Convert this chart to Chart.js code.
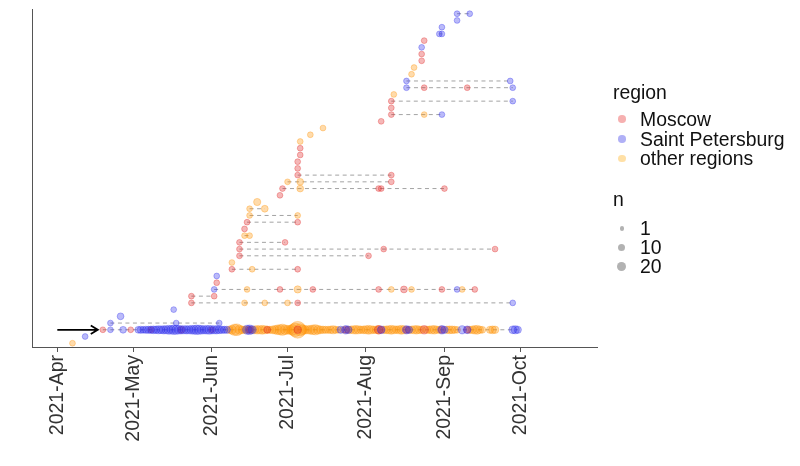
<!DOCTYPE html>
<html>
<head>
<meta charset="utf-8">
<script src="https://cdn.jsdelivr.net/npm/chart.js@4.4.1/dist/chart.umd.min.js"></script>
<style>
  body { margin: 0; background: #fff; }
  #wrap { position: relative; width: 800px; height: 466px; }
  .lg { position: absolute; font-family: "Liberation Sans", Arial, sans-serif; font-size: 19.4px; line-height: 19.4px; color: #111; white-space: nowrap; }
  .key { position: absolute; border-radius: 50%; }
</style>
</head>
<body>
<div id="wrap">
  <canvas id="lineageChart"></canvas>
  <div class="lg" style="left:613px; top:83px;">region</div>
  <div class="key" style="left:618px; top:115px; width:7.5px; height:7.5px; background:rgba(230,30,30,0.35);"></div>
  <div class="lg" style="left:640px; top:110px;">Moscow</div>
  <div class="key" style="left:618px; top:135px; width:7.5px; height:7.5px; background:rgba(30,30,230,0.35);"></div>
  <div class="lg" style="left:640px; top:130px;">Saint Petersburg</div>
  <div class="key" style="left:618px; top:154.5px; width:7.5px; height:7.5px; background:rgba(255,165,0,0.35);"></div>
  <div class="lg" style="left:640px; top:149px;">other regions</div>
  <div class="lg" style="left:613px; top:190px;">n</div>
  <div class="key" style="left:619.5px; top:226px; width:4.5px; height:4.5px; background:rgba(0,0,0,0.3);"></div>
  <div class="lg" style="left:640px; top:218.5px;">1</div>
  <div class="key" style="left:618px; top:244px; width:7px; height:7px; background:rgba(0,0,0,0.3);"></div>
  <div class="lg" style="left:640px; top:238px;">10</div>
  <div class="key" style="left:617.3px; top:262px; width:8.8px; height:8.8px; background:rgba(0,0,0,0.3);"></div>
  <div class="lg" style="left:640px; top:256.5px;">20</div>
</div>
<script>
// [row, date, n]
var moscow = [
  [2,'2021-04-19',1],[2,'2021-04-30',1],[2,'2021-05-08',1],[2,'2021-05-20',2],[2,'2021-06-01',1],
  [2,'2021-06-16',2],[2,'2021-06-23',2],[2,'2021-07-05',4],[2,'2021-07-24',2],[2,'2021-08-06',8],
  [2,'2021-08-07',2],[2,'2021-08-17',2],[2,'2021-08-24',8],[2,'2021-08-31',3],[2,'2021-09-10',2],
  [6,'2021-05-24',1],[6,'2021-07-05',1],
  [7,'2021-05-24',1],[7,'2021-06-02',1],
  [8,'2021-06-28',1],[8,'2021-07-11',1],[8,'2021-08-06',1],[8,'2021-08-16',2],[8,'2021-08-31',1],[8,'2021-09-13',1],
  [9,'2021-06-03',1],
  [11,'2021-06-09',1],[11,'2021-07-05',1],
  [13,'2021-06-12',1],[13,'2021-08-02',1],
  [14,'2021-06-12',1],[14,'2021-08-08',1],[14,'2021-09-21',1],
  [15,'2021-06-12',1],[15,'2021-06-30',1],
  [17,'2021-06-14',1],
  [18,'2021-06-15',1],[18,'2021-07-05',1],
  [22,'2021-06-28',1],
  [23,'2021-06-29',1],[23,'2021-08-06',1],[23,'2021-08-07',1],[23,'2021-09-01',1],
  [24,'2021-08-11',1],
  [25,'2021-07-05',1],[25,'2021-08-11',1],
  [26,'2021-07-05',1],[27,'2021-07-05',1],[28,'2021-07-06',1],[29,'2021-07-06',1],
  [33,'2021-08-07',1],
  [34,'2021-08-11',1],[35,'2021-08-11',1],[36,'2021-08-11',1],
  [38,'2021-08-24',1],[38,'2021-09-10',1],
  [42,'2021-08-23',1],[43,'2021-08-23',1],[45,'2021-08-24',1]
];

var spb = [
  [1,'2021-04-12',1],
  [2,'2021-04-22',1],[2,'2021-04-27',2],
  [2,'2021-05-03',2],[2,'2021-05-04',3],[2,'2021-05-05',2],[2,'2021-05-06',3],[2,'2021-05-07',3],
  [2,'2021-05-08',4],[2,'2021-05-09',5],[2,'2021-05-10',4],[2,'2021-05-11',6],[2,'2021-05-12',5],
  [2,'2021-05-13',7],[2,'2021-05-14',6],[2,'2021-05-15',10],[2,'2021-05-16',9],[2,'2021-05-17',14],
  [2,'2021-05-18',12],[2,'2021-05-19',9],[2,'2021-05-20',7],[2,'2021-05-21',6],[2,'2021-05-22',7],
  [2,'2021-05-23',6],[2,'2021-05-24',9],[2,'2021-05-25',10],[2,'2021-05-26',14],[2,'2021-05-27',12],
  [2,'2021-05-28',9],[2,'2021-05-29',7],[2,'2021-05-30',8],[2,'2021-05-31',10],[2,'2021-06-01',7],
  [2,'2021-06-02',6],[2,'2021-06-03',7],[2,'2021-06-04',5],[2,'2021-06-05',4],[2,'2021-06-06',3],
  [2,'2021-06-07',3],[2,'2021-06-15',12],[2,'2021-06-16',15],[2,'2021-06-17',6],
  [2,'2021-07-22',3],[2,'2021-07-24',8],[2,'2021-07-25',4],[2,'2021-08-07',5],[2,'2021-08-17',7],
  [2,'2021-08-18',3],[2,'2021-08-31',8],[2,'2021-09-01',3],[2,'2021-09-08',7],[2,'2021-09-10',5],
  [2,'2021-09-28',5],[2,'2021-09-29',6],[2,'2021-09-30',3],
  [3,'2021-04-22',1],[3,'2021-05-18',1],[3,'2021-06-04',1],
  [4,'2021-04-26',2],
  [5,'2021-05-17',1],
  [6,'2021-09-28',1],
  [8,'2021-06-02',1],[8,'2021-09-06',1],
  [10,'2021-06-03',1],
  [34,'2021-08-31',1],
  [36,'2021-09-28',1],
  [38,'2021-08-17',1],[38,'2021-09-28',1],
  [39,'2021-08-17',1],[39,'2021-09-27',1],
  [44,'2021-08-23',1],
  [46,'2021-08-30',1],[46,'2021-08-31',1],
  [47,'2021-08-31',1],
  [48,'2021-09-06',1],
  [49,'2021-09-06',1],[49,'2021-09-11',1]
];

var other = [
  [0,'2021-04-07',1],
  [2,'2021-06-08',4],[2,'2021-06-09',10],[2,'2021-06-10',30],[2,'2021-06-11',35],[2,'2021-06-12',12],
  [2,'2021-06-13',5],[2,'2021-06-14',4],[2,'2021-06-15',3],[2,'2021-06-16',2],[2,'2021-06-17',3],
  [2,'2021-06-18',5],[2,'2021-06-19',8],[2,'2021-06-20',6],[2,'2021-06-21',10],[2,'2021-06-22',6],
  [2,'2021-06-23',4],[2,'2021-06-24',3],[2,'2021-06-25',5],[2,'2021-06-26',8],[2,'2021-06-27',15],
  [2,'2021-06-28',20],[2,'2021-06-29',30],[2,'2021-06-30',15],[2,'2021-07-01',10],[2,'2021-07-02',12],
  [2,'2021-07-03',25],[2,'2021-07-04',60],[2,'2021-07-05',120],[2,'2021-07-06',40],[2,'2021-07-07',15],
  [2,'2021-07-08',8],[2,'2021-07-09',6],[2,'2021-07-10',10],[2,'2021-07-11',15],[2,'2021-07-12',20],
  [2,'2021-07-13',10],[2,'2021-07-14',5],[2,'2021-07-15',4],[2,'2021-07-16',3],[2,'2021-07-17',3],
  [2,'2021-07-18',4],[2,'2021-07-19',6],[2,'2021-07-20',3],[2,'2021-07-21',2],[2,'2021-07-23',2],
  [2,'2021-07-25',3],[2,'2021-07-26',4],[2,'2021-07-27',6],[2,'2021-07-28',8],[2,'2021-07-29',6],
  [2,'2021-07-30',4],[2,'2021-07-31',5],[2,'2021-08-01',6],[2,'2021-08-02',10],[2,'2021-08-03',6],
  [2,'2021-08-04',4],[2,'2021-08-05',5],[2,'2021-08-06',8],[2,'2021-08-08',4],[2,'2021-08-09',5],
  [2,'2021-08-10',6],[2,'2021-08-11',10],[2,'2021-08-12',6],[2,'2021-08-13',4],[2,'2021-08-14',6],
  [2,'2021-08-15',10],[2,'2021-08-16',6],[2,'2021-08-18',3],[2,'2021-08-19',4],[2,'2021-08-20',6],
  [2,'2021-08-21',8],[2,'2021-08-22',5],[2,'2021-08-23',4],[2,'2021-08-25',4],[2,'2021-08-26',4],
  [2,'2021-08-27',6],[2,'2021-08-28',8],[2,'2021-08-29',4],[2,'2021-08-30',3],[2,'2021-09-02',4],
  [2,'2021-09-03',5],[2,'2021-09-04',5],[2,'2021-09-05',3],[2,'2021-09-06',2],[2,'2021-09-11',3],
  [2,'2021-09-12',5],[2,'2021-09-13',8],[2,'2021-09-14',10],[2,'2021-09-15',4],[2,'2021-09-16',2],
  [2,'2021-09-19',3],[2,'2021-09-20',5],[2,'2021-09-21',4],
  [6,'2021-06-14',1],[6,'2021-06-22',1],[6,'2021-07-01',1],
  [8,'2021-06-15',1],[8,'2021-07-05',3],[8,'2021-08-11',1],[8,'2021-08-19',1],[8,'2021-09-08',1],
  [11,'2021-06-17',1],
  [12,'2021-06-09',1],
  [16,'2021-06-14',1],[16,'2021-06-16',1],
  [19,'2021-06-16',1],[19,'2021-07-05',1],
  [20,'2021-06-16',1],[20,'2021-06-22',2],
  [21,'2021-06-19',3],
  [23,'2021-07-06',2],
  [24,'2021-07-01',1],[24,'2021-07-06',2],
  [30,'2021-07-06',1],[31,'2021-07-10',1],[32,'2021-07-15',1],
  [34,'2021-08-24',1],
  [37,'2021-08-12',1],
  [40,'2021-08-19',1],[41,'2021-08-20',1]
];

var tickDates = ['2021-04-01','2021-05-01','2021-06-01','2021-07-01','2021-08-01','2021-09-01','2021-10-01'];
var tickLabels = ['2021-Apr','2021-May','2021-Jun','2021-Jul','2021-Aug','2021-Sep','2021-Oct'];
var arrowFrom = ['2021-04-01', 2];
var arrowTo = ['2021-04-17', 2];

var base = Date.UTC(2021, 3, 1);
function dayNum(s) { return (Date.parse(s + 'T00:00:00Z') - base) / 864e5; }
function sizeOf(n) { return 2.9 + 0.5 * Math.sqrt(n - 1); }
function toPoints(list) { return list.map(function(p) { return { x: dayNum(p[1]), y: p[0], n: p[2] }; }); }

// dashed segment from first to last sample in each row
var spans = {};
[moscow, spb, other].forEach(function(list) {
  list.forEach(function(p) {
    var d = dayNum(p[1]);
    if (!spans[p[0]]) spans[p[0]] = [d, d];
    spans[p[0]][0] = Math.min(spans[p[0]][0], d);
    spans[p[0]][1] = Math.max(spans[p[0]][1], d);
  });
});
var lineSets = [];
Object.keys(spans).forEach(function(row) {
  var s = spans[row];
  if (s[1] > s[0]) {
    lineSets.push({
      type: 'line',
      data: [{ x: s[0], y: +row }, { x: s[1], y: +row }],
      borderColor: '#a3a3a3',
      borderWidth: 1,
      borderDash: [4, 3.5],
      pointRadius: 0,
      order: 10
    });
  }
});

function pointSet(list, rgb, alpha, order) {
  return {
    type: 'scatter',
    data: toPoints(list),
    backgroundColor: 'rgba(' + rgb + ',' + alpha + ')',
    borderColor: 'rgba(' + rgb + ',' + alpha + ')',
    borderWidth: 1,
    pointRadius: function(ctx) { return ctx.raw ? sizeOf(ctx.raw.n) : 3; },
    order: order
  };
}

var arrowPlugin = {
  id: 'arrow',
  afterDatasetsDraw: function(chart) {
    var c = chart.ctx, xs = chart.scales.x, ys = chart.scales.y;
    var x0 = xs.getPixelForValue(dayNum(arrowFrom[0])), y0 = ys.getPixelForValue(arrowFrom[1]);
    var x1 = xs.getPixelForValue(dayNum(arrowTo[0])), y1 = ys.getPixelForValue(arrowTo[1]);
    c.save();
    c.strokeStyle = '#000';
    c.lineWidth = 1.8;
    c.beginPath();
    c.moveTo(x0, y0); c.lineTo(x1, y1);
    c.moveTo(x1 - 7, y1 - 4.2); c.lineTo(x1, y1); c.lineTo(x1 - 7, y1 + 4.2);
    c.stroke();
    c.restore();
  }
};

var ctx = document.getElementById('lineageChart').getContext('2d');
var chart = new Chart(ctx, {
  data: {
    datasets: [
      pointSet(spb, '40,40,235', 0.32, 1),
      pointSet(moscow, '225,35,35', 0.33, 2),
      pointSet(other, '255,145,0', 0.33, 3)
    ].concat(lineSets)
  },
  options: {
    responsive: true,
    maintainAspectRatio: false,
    animation: false,
    events: [],
    layout: { padding: { left: 32, right: 203, top: 7, bottom: 0 } },
    plugins: { legend: { display: false }, tooltip: { enabled: false } },
    scales: {
      x: {
        type: 'linear',
        min: -10,
        max: 213.3,
        afterBuildTicks: function(scale) {
          scale.ticks = tickDates.map(function(d) { return { value: dayNum(d) }; });
        },
        afterFit: function(scale) { scale.height = 118; },
        ticks: {
          autoSkip: false,
          minRotation: 90,
          maxRotation: 90,
          padding: 3,
          color: '#333',
          font: { family: '"Liberation Sans", Arial, sans-serif', size: 19.5 },
          callback: function(v, i) { return tickLabels[i]; }
        },
        grid: { drawOnChartArea: false, drawTicks: true, tickLength: 4, color: '#555' },
        border: { color: '#555', width: 1 }
      },
      y: {
        type: 'linear',
        min: -0.71,
        max: 49.65,
        afterFit: function(scale) { scale.width = 0; },
        ticks: { display: false },
        grid: { display: false },
        border: { color: '#555', width: 1 }
      }
    }
  },
  plugins: [arrowPlugin]
});
</script>
</body>
</html>
